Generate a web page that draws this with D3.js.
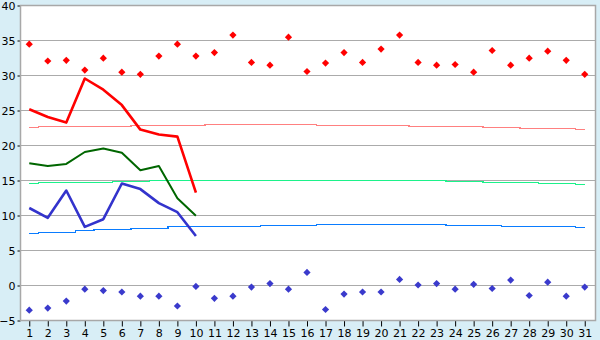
<!DOCTYPE html>
<html><head><meta charset="utf-8">
<script src="https://cdn.jsdelivr.net/npm/d3@7"></script>
<style>
html,body{margin:0;padding:0;background:#d8eef6;}
svg{display:block;}
text{font-family:"DejaVu Sans",Verdana,sans-serif;font-size:11px;fill:#000;}
</style></head><body>
<svg id="chart" width="600" height="340"></svg>
<script>
const days = [1,2,3,4,5,6,7,8,9,10,11,12,13,14,15,16,17,18,19,20,21,22,23,24,25,26,27,28,29,30,31];
const yTicks = [-5,0,5,10,15,20,25,30,35,40];
const recordMax = [34.4,32.0,32.1,30.7,32.4,30.4,30.1,32.7,34.4,32.7,33.2,35.7,31.8,31.4,35.4,30.5,31.7,33.2,31.8,33.7,35.7,31.8,31.4,31.5,30.4,33.5,31.4,32.4,33.4,32.1,30.1];
const recordMin = [-3.6,-3.3,-2.3,-0.6,-0.8,-1.0,-1.6,-1.6,-3.0,-0.2,-1.9,-1.6,-0.3,0.2,-0.6,1.8,-3.5,-1.3,-1.0,-1.0,0.8,0.0,0.2,-0.6,0.1,-0.5,0.7,-1.5,0.4,-1.6,-0.3];
const tMax = [25.1,24.0,23.2,29.5,27.9,25.7,22.2,21.5,21.2,13.2];
const tAvg = [17.4,17.0,17.3,19.0,19.5,18.9,16.4,17.0,12.4,9.9];
const tMin = [11.0,9.6,13.5,8.3,9.4,14.5,13.7,11.7,10.4,7.0];
const normalMax = [22.57,22.71,22.71,22.71,22.71,22.71,22.81,22.81,22.81,22.81,22.95,22.95,22.95,22.95,22.95,22.95,22.81,22.81,22.81,22.81,22.81,22.67,22.67,22.67,22.67,22.52,22.52,22.38,22.38,22.38,22.24];
const normalAvg = [14.55,14.7,14.7,14.7,14.7,14.85,14.85,14.97,14.97,14.97,14.97,14.97,14.97,14.97,14.97,14.97,14.97,14.97,14.97,14.97,14.97,14.97,14.97,14.85,14.85,14.7,14.7,14.7,14.55,14.55,14.4];
const normalMin = [7.4,7.6,7.6,7.8,8.0,8.0,8.2,8.2,8.38,8.38,8.38,8.38,8.38,8.52,8.52,8.52,8.67,8.67,8.67,8.67,8.67,8.67,8.67,8.52,8.52,8.52,8.38,8.38,8.38,8.38,8.24];

const svg = d3.select("#chart");
const L = 20, R = 595, T = 5, B = 320;
const x = d3.scaleBand().domain(days).range([L, R - 1]);
const cx = d => x(d) + x.bandwidth() / 2;
const y = d3.scaleLinear().domain([-5, 40]).range([B, T]);

// plot background
svg.append("rect").attr("x", L + 0.5).attr("y", T + 0.5).attr("width", R - L).attr("height", B - T)
  .attr("fill", "#fff");

// gridlines
svg.append("g").selectAll("line").data(yTicks.filter(v => v > -5 && v < 40)).join("line")
  .attr("x1", L).attr("x2", R).attr("y1", d => Math.round(y(d)) + 0.5).attr("y2", d => Math.round(y(d)) + 0.5)
  .attr("stroke", "#ababab").attr("stroke-width", 1);

// y axis
const yAxis = d3.axisLeft(y).tickValues(yTicks).tickSize(3).tickPadding(2).tickFormat(d3.format("d"));
const gy = svg.append("g").attr("transform", `translate(${L + 0.5},0.5)`).call(yAxis);
gy.select(".domain").remove();
gy.selectAll(".tick line").attr("stroke", "#000");
gy.selectAll(".tick text").style("font-size", "11px").attr("font-family", null);

// x axis
const xAxis = d3.axisBottom(x).tickSize(6).tickPadding(3);
const gx = svg.append("g").attr("transform", `translate(0.5,${B + 0.5})`).call(xAxis);
gx.select(".domain").remove();
gx.selectAll(".tick line").attr("stroke", "#000");
gx.selectAll(".tick text").style("font-size", "11px").attr("font-family", null);

// border
svg.append("rect").attr("x", L + 0.5).attr("y", T + 0.5).attr("width", R - L).attr("height", B - T)
  .attr("fill", "none").attr("stroke", "#a8a8a8").attr("stroke-width", 1.5);

// normals (step lines)
const stepLine = d3.line().x((d, i) => cx(days[i])).y(d => Math.round(y(d)) + 0.5).curve(d3.curveStep);
[[normalMax, "#ff8080"], [normalAvg, "#1cf28a"], [normalMin, "#0a7cff"]].forEach(([arr, c]) => {
  svg.append("path").datum(arr).attr("d", stepLine).attr("fill", "none")
    .attr("stroke", c).attr("stroke-width", 1.5).attr("shape-rendering", "crispEdges");
});

// observed lines
const line = d3.line().x((d, i) => cx(days[i])).y(d => y(d));
[[tMax, "#ff0000", 2.6], [tAvg, "#006600", 2], [tMin, "#3333cc", 2.6]].forEach(([arr, c, w]) => {
  svg.append("path").datum(arr).attr("d", line).attr("fill", "none")
    .attr("stroke", c).attr("stroke-width", w).attr("stroke-linejoin", "round");
});

// records
const diamond = d3.symbol().type(d3.symbolSquare).size(26);
svg.append("g").selectAll("path").data(recordMax).join("path")
  .attr("d", diamond).attr("fill", "#ff0000")
  .attr("transform", (d, i) => `translate(${cx(days[i])},${y(d)}) rotate(45)`);
svg.append("g").selectAll("path").data(recordMin).join("path")
  .attr("d", diamond).attr("fill", "#3a3acc")
  .attr("transform", (d, i) => `translate(${cx(days[i])},${y(d)}) rotate(45)`);
</script>
</body></html>
